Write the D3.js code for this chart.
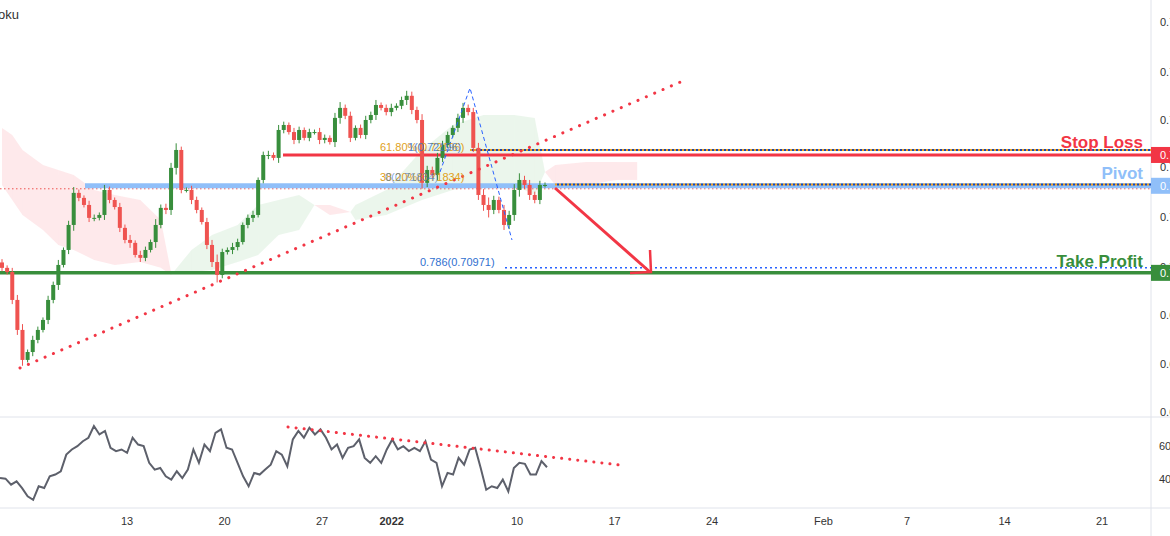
<!DOCTYPE html>
<html><head><meta charset="utf-8">
<script src="https://cdn.jsdelivr.net/npm/d3@7"></script>
<style>body{margin:0;background:#fff;font-family:"Liberation Sans",Arial,sans-serif}</style>
</head><body><svg id="c" width="1170" height="536"></svg>
<script>
// closes, oldest first
var closes = [0.7097,0.7087,0.7020,0.6948,0.6876,0.6895,0.6924,0.6948,0.6972,0.7020,0.7056,0.7104,0.7140,0.7200,0.7277,0.7265,0.7248,0.7217,0.7217,0.7224,
  0.7284,0.7260,0.7243,0.7193,0.7164,0.7157,0.7128,0.7121,0.7140,0.7159,0.7200,0.7241,0.7236,0.7337,0.7380,0.7284,0.7284,0.7260,0.7236,0.7207,
  0.7152,0.7111,0.7080,0.7135,0.7140,0.7147,0.7159,0.7200,0.7217,0.7224,0.7308,0.7368,0.7368,0.7361,0.7428,0.7440,0.7423,0.7404,0.7428,0.7409,
  0.7423,0.7423,0.7404,0.7409,0.7399,0.7457,0.7481,0.7462,0.7409,0.7433,0.7416,0.7452,0.7464,0.7488,0.7481,0.7471,0.7481,0.7486,0.7500,0.7510,
  0.7476,0.7452,0.7301,0.7332,0.7320,0.7361,0.7392,0.7416,0.7433,0.7457,0.7481,0.7471,0.7385,0.7272,0.7248,0.7236,0.7260,0.7236,0.7200,0.7224,
  0.7284,0.7308,0.7296,0.7272,0.7260,0.7296,0.7296];
var firstOpen = 0.7110;
// wick length in pips beyond the body
var wicks = [8,6,10,12,14,6,10,8,6,10,8,12,6,10,14,8,6,10,8,6,
  12,8,6,10,8,12,6,10,8,6,14,8,10,12,16,8,6,10,8,6,
  10,12,18,8,6,10,8,6,8,10,6,8,10,6,12,8,6,10,8,6,
  8,6,10,8,6,12,14,8,10,6,8,10,8,12,6,8,10,6,8,12,
  10,8,14,10,8,12,10,8,6,10,12,8,10,12,14,18,10,8,12,10,
  14,16,10,12,8,10,6];
// ichimoku cloud (bar index, span A, span B)
var cloudIdx = [0,2,4,8,11,14,18,22,27,31,33,37,41,46,50,54,58,61,64,68,69,75,82,88,94,100,104,106,108,114,120,124];
var spanA = [0.7296,0.7260,0.7224,0.7188,0.7152,0.7140,0.7116,0.7104,0.7111,0.7097,0.7080,0.7140,0.7176,0.7200,0.7248,0.7260,0.7272,0.7248,0.7224,0.7231,0.7248,0.7284,0.7380,0.7440,0.7464,0.7464,0.7457,0.7327,0.7296,0.7296,0.7308,0.7308];
var spanB = [0.7433,0.7416,0.7380,0.7344,0.7332,0.7320,0.7284,0.7272,0.7260,0.7212,0.7087,0.7087,0.7092,0.7111,0.7128,0.7176,0.7188,0.7248,0.7248,0.7231,0.7212,0.7224,0.7260,0.7284,0.7296,0.7296,0.7272,0.7327,0.7344,0.7351,0.7351,0.7351];
var rsi = [40.6,40.2,36.6,38.6,34.5,29.5,27.4,35.6,34.5,41.6,42.7,44.7,54.8,57.9,59.9,62.9,65.0,72.1,67.0,69.1,
  58.9,56.9,57.9,55.9,65.0,60.9,59.9,49.8,45.7,46.7,41.6,39.6,44.7,40.6,45.7,57.9,49.8,60.9,56.9,68.0,
  70.1,58.9,57.9,49.8,41.6,35.6,43.7,42.7,45.7,48.7,56.9,54.8,47.7,64.0,69.1,65.0,71.1,67.0,70.1,65.0,
  57.9,60.9,52.8,58.9,59.9,64.0,52.8,49.8,53.8,49.8,57.9,64.0,57.9,59.9,56.9,58.9,56.9,62.9,51.8,49.8,
  35.6,43.7,42.7,52.8,48.7,57.9,58.9,46.7,33.5,35.6,34.5,39.6,32.5,46.7,49.8,49.2,42.7,42.7,50.8,47.1];
var priceTicks = [0.7687,0.7567,0.7452,0.7339,0.7219,0.7099,0.6984,0.6866,0.6751];
var rsiTicks = [60,40];
var dateTicks = [["2021-12-13","13"],["2021-12-20","20"],["2021-12-27","27"],["2022-01-01","2022"],["2022-01-10","10"],["2022-01-17","17"],
  ["2022-01-24","24"],["2022-02-01","Feb"],["2022-02-07","7"],["2022-02-14","14"],["2022-02-21","21"]];
var levels = {stop:0.7368, pivot:0.7294, take:0.7085, fib786:0.70971, fibTop:0.7380, fibMid:0.7297};

var svg = d3.select("#c");
var W = 1151, mainH = 417, rsiBot = 508;
var n = closes.length;
var x = d3.scaleLinear().domain([0, n - 1]).range([2, 545]);
var y = d3.scaleLinear().domain([0.774, 0.6739]).range([0, 417]);
var ry = d3.scaleLinear().domain([60, 40]).range([446, 479]);
var rx = d3.scaleLinear().domain([0, rsi.length - 1]).range([0, 547]);
var t = d3.scaleTime().domain([new Date(2021, 11, 13), new Date(2022, 1, 21)]).range([127, 1102]);

// pane separators and axis
svg.append("line").attr("x1",0).attr("x2",1170).attr("y1",mainH).attr("y2",mainH).attr("stroke","#e0e3eb");
svg.append("line").attr("x1",0).attr("x2",1170).attr("y1",rsiBot).attr("y2",rsiBot).attr("stroke","#e0e3eb");
svg.append("line").attr("x1",W).attr("x2",W).attr("y1",0).attr("y2",536).attr("stroke","#e0e3eb");

var main = svg.append("g");
main.append("clipPath").attr("id","mc").append("rect").attr("width",W).attr("height",mainH);
var g = main.append("g").attr("clip-path","url(#mc)");

// cloud
var cloud = cloudIdx.map(function(d, i){ return {i:d, a:spanA[i], b:spanB[i]}; });
for (var k = 0; k < cloud.length - 1; k++) {
  var p = cloud[k], q = cloud[k + 1];
  var green = (p.a + q.a) >= (p.b + q.b);
  g.append("path").attr("fill", green ? "rgba(76,175,80,0.11)" : "rgba(242,54,69,0.11)")
    .attr("d", d3.area().x(function(d){ return x(d.i); }).y0(function(d){ return y(d.a); }).y1(function(d){ return y(d.b); })([p, q]));
}

// horizontal levels
g.append("line").attr("x1",0).attr("x2",W).attr("y1",y(levels.pivot)+3).attr("y2",y(levels.pivot)+3)
  .attr("stroke","#ef5350").attr("stroke-width",1).attr("stroke-dasharray","1.5,2.5");
g.append("line").attr("x1",85).attr("x2",W).attr("y1",y(levels.pivot)).attr("y2",y(levels.pivot)).attr("stroke","#90bff9").attr("stroke-width",5);
[[levels.fibTop,470],[levels.fibMid,555]].forEach(function(l){
  g.append("line").attr("x1",l[1]).attr("x2",W).attr("y1",y(l[0])).attr("y2",y(l[0])).attr("stroke","#f0a020").attr("stroke-width",2).attr("stroke-dasharray","2,2");
  g.append("line").attr("x1",l[1]).attr("x2",W).attr("y1",y(l[0])).attr("y2",y(l[0])).attr("stroke","#1848b0").attr("stroke-width",2).attr("stroke-dasharray","2,2").attr("stroke-dashoffset",2);
});
g.append("line").attr("x1",505).attr("x2",W).attr("y1",y(levels.fib786)).attr("y2",y(levels.fib786)).attr("stroke","#2962ff").attr("stroke-width",1.5).attr("stroke-dasharray","2,3");
g.append("line").attr("x1",283).attr("x2",W).attr("y1",y(levels.stop)).attr("y2",y(levels.stop)).attr("stroke","#f23645").attr("stroke-width",3);
g.append("line").attr("x1",0).attr("x2",W).attr("y1",y(levels.take)).attr("y2",y(levels.take)).attr("stroke","#388e3c").attr("stroke-width",3.5);

// candles
var bars = closes.map(function(c, i){
  var o = i ? closes[i - 1] : firstOpen;
  return {i:i, o:o, c:c, h:Math.max(o, c) + wicks[i] * 0.0001, l:Math.min(o, c) - wicks[i] * 0.0001};
});
var cg = g.selectAll("g.bar").data(bars).enter().append("g");
cg.append("line").attr("x1",function(d){return x(d.i);}).attr("x2",function(d){return x(d.i);})
  .attr("y1",function(d){return y(d.h);}).attr("y2",function(d){return y(d.l);})
  .attr("stroke",function(d){return d.c >= d.o ? "#388e3c" : "#ef5350";});
cg.append("rect").attr("x",function(d){return x(d.i) - 2;}).attr("width",4)
  .attr("y",function(d){return y(Math.max(d.o, d.c));})
  .attr("height",function(d){return Math.max(1, Math.abs(y(d.o) - y(d.c)));})
  .attr("fill",function(d){return d.c >= d.o ? "#388e3c" : "#ef5350";});

// trend line and fib zigzag
g.append("line").attr("x1",20).attr("y1",368).attr("x2",685).attr("y2",80)
  .attr("stroke","#f23645").attr("stroke-width",3).attr("stroke-dasharray","0.1,9").attr("stroke-linecap","round");
g.append("path").attr("d",d3.line()([[440,172],[470,88],[512,240]])).attr("fill","none")
  .attr("stroke","#2962ff").attr("stroke-width",1).attr("stroke-dasharray","4,3");
// arrow
g.append("path").attr("d",d3.line()([[555,188],[650,272]])).attr("stroke","#f23645").attr("stroke-width",3).attr("fill","none");
g.append("path").attr("d",d3.line()([[650,250],[651,272],[630,273]])).attr("stroke","#f23645").attr("stroke-width",2.5).attr("fill","none");

// fib texts
function txt(s, px, py, col, size, anchor, weight){
  return g.append("text").attr("x",px).attr("y",py).attr("fill",col).attr("font-size",size)
    .attr("text-anchor",anchor || "start").attr("font-weight",weight || "normal").text(s);
}
txt("61.80%(0.72196)", 380, y(levels.fibTop) + 1, "#e0a020", 11);
txt("1(0.72196)", 408, y(levels.fibTop) + 1, "#3070d0", 11).attr("opacity",0.8);
txt("38.20%(0.71834)", 380, y(levels.fibMid) - 4, "#e0a020", 11);
txt("0(0.71834)", 385, y(levels.fibMid) - 4, "#3070d0", 11).attr("opacity",0.6);
txt("0.786(0.70971)", 420, y(levels.fib786) - 2, "#3070d0", 11);
txt("Stop Loss", 1143, y(levels.stop) - 7, "#f23645", 17, "end", "bold");
txt("Pivot", 1143, y(levels.pivot) - 7, "#90bff9", 17, "end", "bold");
txt("Take Profit", 1143, y(levels.take) - 6, "#388e3c", 17, "end", "bold");
txt("oku", -2, 19, "#333", 13);

// price axis (labels cut at right edge)
priceTicks.forEach(function(v){
  svg.append("text").attr("x",1160).attr("y",y(v) + 4).attr("font-size",11).attr("fill","#333").text(v.toFixed(4));
});
[[levels.stop,"#f23645"],[levels.pivot,"#90bff9"],[levels.take,"#388e3c"]].forEach(function(l){
  svg.append("rect").attr("x",W).attr("y",y(l[0]) - 8).attr("width",19).attr("height",16).attr("fill",l[1]);
  svg.append("text").attr("x",1160).attr("y",y(l[0]) + 4).attr("font-size",11).attr("fill","#fff").text(l[0].toFixed(4));
});

// RSI pane
var rg = svg.append("g");
rg.append("path").attr("d",d3.line().x(function(d,i){return rx(i);}).y(function(d){return ry(d);})(rsi))
  .attr("fill","none").attr("stroke","#5d606b").attr("stroke-width",2);
rg.append("line").attr("x1",288).attr("y1",427).attr("x2",620).attr("y2",465)
  .attr("stroke","#f23645").attr("stroke-width",3).attr("stroke-dasharray","0.1,8").attr("stroke-linecap","round");
rsiTicks.forEach(function(v){
  svg.append("text").attr("x",1159).attr("y",ry(v) + 4).attr("font-size",11).attr("fill","#333").text(v + ".00");
});

// date axis
dateTicks.forEach(function(d){
  svg.append("text").attr("x",t(d3.timeParse("%Y-%m-%d")(d[0]))).attr("y",525).attr("text-anchor","middle")
    .attr("font-size",11).attr("fill","#333").attr("font-weight",d[1] === "2022" ? "bold" : "normal").text(d[1]);
});
</script></body></html>
